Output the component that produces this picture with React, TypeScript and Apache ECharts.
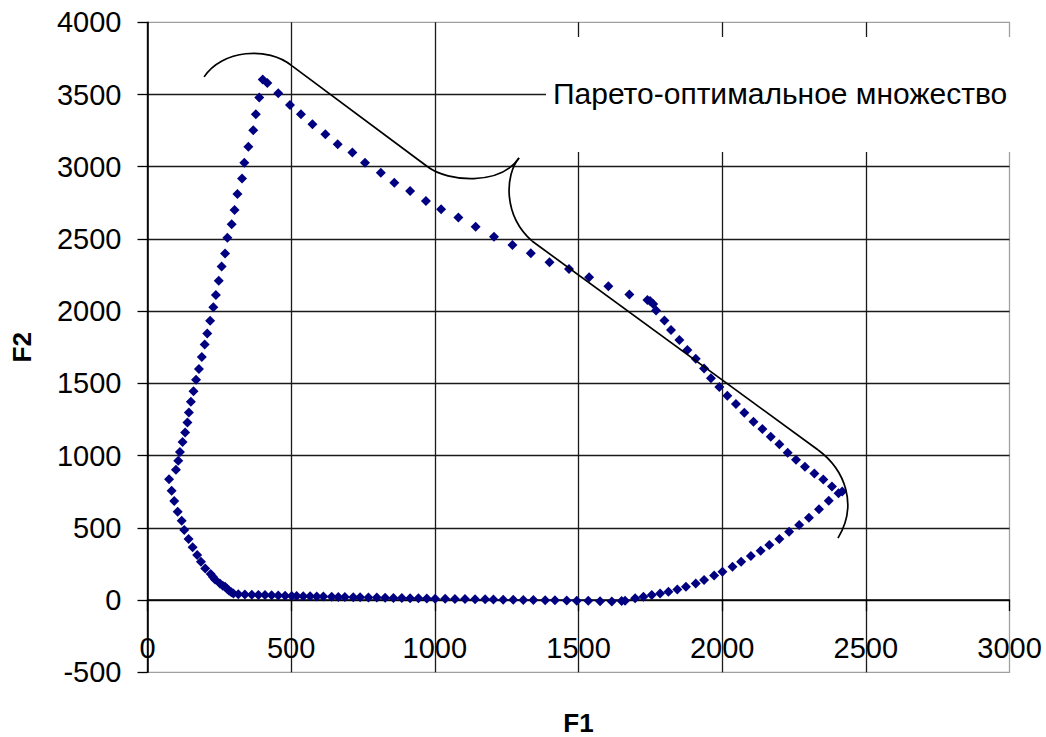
import React, { useEffect, useRef } from "react";
import * as echarts from "echarts";

// ---- data (F1, F2) ----
const peak: number[][] = [[401, 3604], [417, 3580]];
const leftRise: number[][] = [
  [99, 903], [107, 965], [113, 1026], [122, 1094], [131, 1160], [139, 1230], [144, 1299],
  [151, 1373], [160, 1445], [169, 1526], [179, 1600], [189, 1682], [199, 1769], [208, 1845],
  [218, 1934], [229, 2028], [238, 2112], [248, 2211], [258, 2310], [270, 2399], [278, 2508],
  [293, 2602], [303, 2701], [313, 2812], [329, 2918], [337, 3027], [351, 3138], [368, 3252],
  [377, 3364], [389, 3480],
];
const leftFall: number[][] = [
  [75, 836], [84, 757], [93, 686], [105, 612], [119, 549], [128, 485], [143, 422], [157, 365],
  [173, 312], [186, 265], [201, 219], [220, 180], [228, 160], [235, 143], [252, 115], [262, 100],
  [270, 92], [277, 78], [284, 64], [292, 55], [299, 46],
];
const bottomFlat: number[][] = [
  [316, 40], [339, 38], [363, 37], [386, 36], [409, 35], [432, 33], [455, 32], [479, 30],
  [502, 29], [519, 28], [542, 27], [566, 26], [589, 25], [612, 24], [641, 23], [664, 22],
  [687, 21], [716, 20], [740, 19], [769, 18], [798, 17], [827, 16], [856, 15], [885, 14],
  [914, 13], [943, 12], [972, 11], [1001, 10], [1036, 9], [1070, 8], [1105, 7], [1140, 6],
  [1175, 5], [1204, 4], [1238, 3], [1273, 2], [1308, 1], [1343, 0], [1384, -1], [1418, -2],
  [1459, -3], [1494, -4], [1534, -5], [1575, -8], [1616, -9], [1650, -6], [1662, -4],
];
const rightRise: number[][] = [
  [1697, 12], [1726, 23], [1755, 35], [1784, 46], [1813, 58], [1844, 74], [1874, 92],
  [1908, 115], [1937, 139], [1972, 171], [2001, 196], [2036, 231], [2066, 265], [2100, 305],
  [2134, 341], [2164, 381], [2199, 422], [2233, 473], [2268, 519], [2302, 570], [2337, 628],
  [2371, 688], [2405, 740], [2418, 752],
];
const rightFall: number[][] = [
  [1749, 2071], [1760, 2050], [1770, 2004], [1799, 1935], [1822, 1870], [1851, 1801],
  [1879, 1731], [1908, 1671], [1937, 1604], [1961, 1535], [1990, 1475], [2018, 1415],
  [2048, 1357], [2077, 1297], [2109, 1235], [2140, 1184], [2169, 1131], [2199, 1078],
  [2228, 1020], [2257, 972], [2288, 923], [2321, 877], [2352, 834], [2382, 787],
];
const upperFall: number[][] = [
  [455, 3509], [496, 3428], [534, 3363], [574, 3294], [619, 3225], [662, 3156], [713, 3098],
  [757, 3028], [812, 2959], [859, 2890], [914, 2832], [969, 2763], [1022, 2706], [1082, 2648],
  [1142, 2585], [1206, 2516], [1270, 2458], [1334, 2401], [1399, 2339], [1467, 2292],
  [1537, 2235], [1604, 2172], [1677, 2115], [1740, 2078],
];

// brace annotation (in data coordinates): [start, cp1, cp2, end] cubic pieces and straight pieces
const braceCurve1: number[][] = [[197, 3622], [259, 3809], [419, 3837], [503, 3698]];
const braceLine1: number[][] = [[503, 3698], [976, 2998]];
const braceCurve2: number[][] = [[976, 2998], [1046, 2895], [1227, 2867], [1293, 3061]];
const braceCurve3: number[][] = [[1293, 3061], [1244, 2943], [1237, 2666], [1338, 2486]];
const braceLine2: number[][] = [[1338, 2486], [2334, 1039]];
const braceCurve4: number[][] = [[2334, 1039], [2428, 900], [2473, 658], [2403, 429]];

const labelText = "Парето-оптимальное множество";
const xName = "F1";
const yName = "F2";

const FONT = "'Liberation Sans', Arial, sans-serif";

export default function App() {
  const ref = useRef<HTMLDivElement>(null);

  useEffect(() => {
    document.body.style.margin = "0";
    const chart = echarts.init(ref.current!, null, { renderer: "svg" });
    const allPoints = [
      ...peak, ...leftRise, ...leftFall, ...bottomFlat, ...rightRise, ...rightFall, ...upperFall,
    ];
    const plain = (v: number) => String(v);
    chart.setOption({
      animation: false,
      backgroundColor: "#fff",
      grid: {
        left: 147.5, top: 22.3, width: 862, height: 650,
        show: true, borderColor: "#a0a0a0", borderWidth: 1.3,
        containLabel: false, outerBoundsMode: "none",
      },
      xAxis: {
        type: "value", min: 0, max: 3000, interval: 500,
        name: xName, nameLocation: "middle", nameGap: 40, nameMoveOverlap: false,
        nameTextStyle: { fontFamily: FONT, fontSize: 26, lineHeight: 22, fontWeight: "bold", color: "#000" },
        axisLine: { show: true, onZero: true, lineStyle: { color: "#000", width: 1.5 } },
        axisTick: { show: true, length: 11, inside: false, lineStyle: { color: "#000", width: 1.3 } },
        axisLabel: { margin: -39, fontFamily: FONT, fontSize: 29, color: "#000", formatter: plain },
        splitLine: { show: true, showMaxLine: false, lineStyle: { color: "#1a1a1a", width: 1.3 } },
      },
      yAxis: {
        type: "value", min: -500, max: 4000, interval: 500,
        name: yName, nameLocation: "middle", nameGap: 113, nameMoveOverlap: false,
        nameTextStyle: { fontFamily: FONT, fontSize: 26, fontWeight: "bold", color: "#000" },
        axisLine: { show: true, onZero: false, lineStyle: { color: "#000", width: 1.5 } },
        axisTick: { show: true, length: 10, inside: false, lineStyle: { color: "#000", width: 1.3 } },
        axisLabel: { margin: 26, fontFamily: FONT, fontSize: 29, color: "#000", formatter: plain },
        splitLine: { show: true, showMaxLine: false, showMinLine: false, lineStyle: { color: "#1a1a1a", width: 1.3 } },
      },
      series: [
        {
          type: "scatter",
          data: allPoints,
          symbol: "diamond",
          symbolSize: 10,
          itemStyle: { color: "#000080", opacity: 1 },
          z: 3,
        },
      ],
    });

    const px = (p: number[]) => chart.convertToPixel({ gridIndex: 0 }, p) as number[];
    const curve = (c: number[][]) => {
      const [a, b, d, e] = c.map(px);
      return {
        type: "bezierCurve", z: 20,
        shape: { x1: a[0], y1: a[1], cpx1: b[0], cpy1: b[1], cpx2: d[0], cpy2: d[1], x2: e[0], y2: e[1] },
        style: { stroke: "#000", lineWidth: 1.7, fill: null },
      };
    };
    const line = (l: number[][]) => {
      const [a, b] = l.map(px);
      return {
        type: "line", z: 20,
        shape: { x1: a[0], y1: a[1], x2: b[0], y2: b[1] },
        style: { stroke: "#000", lineWidth: 1.7 },
      };
    };

    chart.setOption({
      graphic: [
        { type: "rect", z: 10, shape: { x: 546, y: 37, width: 470, height: 115 }, style: { fill: "#fff" } },
        {
          type: "text", z: 11, x: 553, y: 93,
          style: { text: labelText, fontFamily: FONT, fontSize: 30, fill: "#000", textVerticalAlign: "middle", verticalAlign: "middle" },
        },
        curve(braceCurve1), line(braceLine1), curve(braceCurve2),
        curve(braceCurve3), line(braceLine2), curve(braceCurve4),
      ],
    });

    return () => chart.dispose();
  }, []);

  return <div ref={ref} style={{ width: 1046, height: 737 }} />;
}
